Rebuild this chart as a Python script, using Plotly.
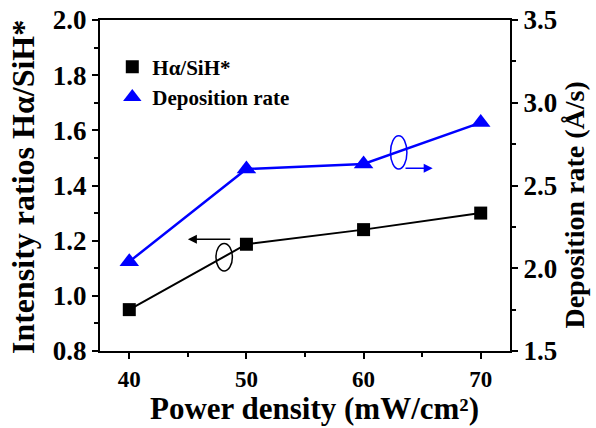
import plotly.graph_objects as go

power = [40, 50, 60, 70]
ratio_ha_sih = [0.95, 1.187, 1.24, 1.30]
dep_rate = [2.04, 2.60, 2.63, 2.88]

x_title = "<b>Power density (mW/cm²)</b>"
y_title = "<b>Intensity ratios Hα/SiH*</b>"
y2_title = "<b>Deposition rate (Å/s)</b>"

FONT = "Liberation Serif"
fig = go.Figure()

fig.add_trace(go.Scatter(x=power, y=ratio_ha_sih, mode="lines", line=dict(color="black", width=2),
                         showlegend=False, yaxis="y"))
fig.add_trace(go.Scatter(x=power, y=ratio_ha_sih, mode="markers", name="<b>Hα/SiH*</b>",
                         marker=dict(symbol="square", size=13, color="black"), yaxis="y"))
fig.add_trace(go.Scatter(x=power, y=dep_rate, mode="lines", line=dict(color="#0000FF", width=2.5),
                         showlegend=False, yaxis="y2"))
fig.add_trace(go.Scatter(x=power, y=dep_rate, mode="markers", name="<b>Deposition rate</b>",
                         marker=dict(symbol="triangle-up", size=17, color="#0000FF"), yaxis="y2"))

axis_common = dict(showgrid=False, zeroline=False, showline=True, linecolor="black", linewidth=2,
                   ticks="outside", ticklen=6, tickwidth=2, tickcolor="black", automargin=False)

fig.update_layout(
    width=596, height=428,
    margin=dict(l=100, r=86, t=20, b=77),
    paper_bgcolor="white", plot_bgcolor="white",
    font=dict(family=FONT, color="black"),
    xaxis=dict(range=[37.5, 72.5], dtick=10, tick0=40, mirror=True,
               minor=dict(ticks="outside", ticklen=4, tickwidth=2, dtick=5, tickcolor="black"),
               tickfont=dict(family=FONT, size=23, color="black"),
               tickprefix="<b>", ticksuffix="</b>", **axis_common),
    yaxis=dict(range=[0.8, 2.0], dtick=0.2, tick0=0.8, tickformat=".1f",
               minor=dict(ticks="outside", ticklen=4, tickwidth=2, dtick=0.1, tickcolor="black"),
               tickfont=dict(family=FONT, size=27, color="black"),
               tickprefix="<b>", ticksuffix="</b>", **axis_common),
    yaxis2=dict(range=[1.5, 3.5], dtick=0.5, tick0=1.5, tickformat=".1f", overlaying="y", side="right",
                minor=dict(ticks="outside", ticklen=4, tickwidth=2, dtick=0.25, tickcolor="black"),
                tickfont=dict(family=FONT, size=27, color="black"),
                tickprefix="<b>", ticksuffix="</b>", **axis_common),
    legend=dict(x=0.03, y=0.92, xanchor="left", yanchor="top", bgcolor="rgba(0,0,0,0)",
                font=dict(family=FONT, size=21, color="black"), itemwidth=30, tracegroupgap=2),
)

# Axis titles as annotations for exact placement
fig.add_annotation(text=x_title, xref="paper", yref="paper", x=0.522, y=-0.2326,
                   xanchor="center", yanchor="bottom", showarrow=False,
                   font=dict(family=FONT, size=31, color="black"))
fig.add_annotation(text=y_title, xref="paper", yref="paper", x=-0.188, y=0.495, textangle=-90,
                   xanchor="center", yanchor="middle", showarrow=False,
                   font=dict(family=FONT, size=32, color="black"))
fig.add_annotation(text=y2_title, xref="paper", yref="paper", x=1.155, y=0.441, textangle=-90,
                   xanchor="center", yanchor="middle", showarrow=False,
                   font=dict(family=FONT, size=28, color="black"))

# Ellipse + arrow indicating left axis for black series
fig.add_shape(type="circle", xref="x", yref="y", x0=47.4, x1=48.8, y0=1.09, y1=1.19,
              line=dict(color="black", width=1.5))
fig.add_annotation(x=45.0, y=1.205, ax=48.75, ay=1.205, xref="x", yref="y", axref="x", ayref="y",
                   text="", showarrow=True, arrowhead=2, arrowsize=1.2, arrowwidth=1.5, arrowcolor="black")
# Ellipse + arrow indicating right axis for blue series
fig.add_shape(type="circle", xref="x", yref="y2", x0=62.3, x1=63.7, y0=2.60, y1=2.80,
              line=dict(color="#0000FF", width=1.5))
fig.add_annotation(x=65.9, y=2.604, ax=63.45, ay=2.604, xref="x", yref="y2", axref="x", ayref="y2",
                   text="", showarrow=True, arrowhead=2, arrowsize=1.2, arrowwidth=1.5, arrowcolor="#0000FF")

fig.write_html("out.html")
